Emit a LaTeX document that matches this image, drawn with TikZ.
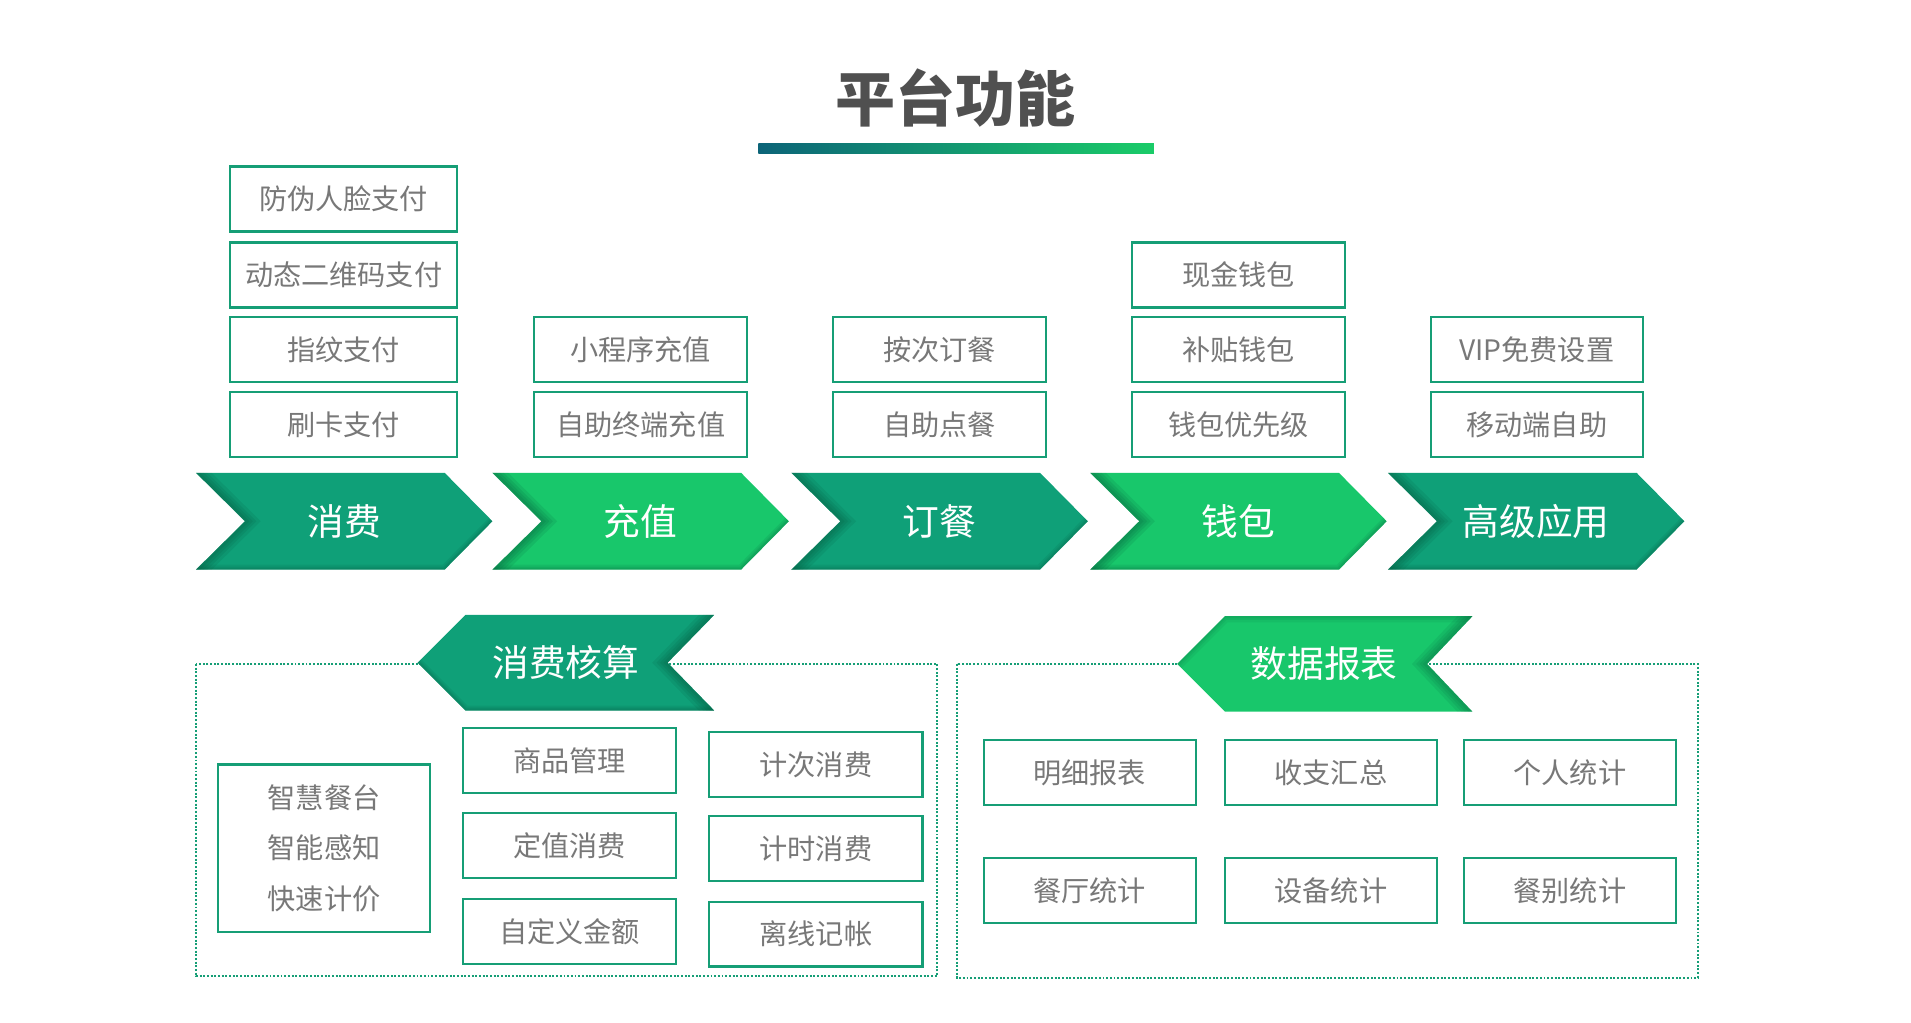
\documentclass[tikz,border=0pt]{standalone}
\usepackage{fontspec}
\newfontfamily\cjk{Noto Sans CJK SC}
\definecolor{dg}{RGB}{15,160,120}
\definecolor{bg}{RGB}{24,199,107}
\definecolor{bd}{RGB}{22,158,118}
\definecolor{tx}{RGB}{120,120,120}
\definecolor{ttl}{RGB}{80,80,80}
\definecolor{shd}{RGB}{4,80,55}
\definecolor{barl}{RGB}{12,100,120}
\definecolor{barr}{RGB}{26,204,104}
\newcommand\chevron[4]{%
  \fill[#2] (#1,386) -- ++(203,0) -- ++(39,39.5) -- ++(-39,39.5) -- ++(-203,0) -- ++(40,-39.5) -- cycle;
  \begin{scope}
    \clip (#1,386) -- ++(203,0) -- ++(39,39.5) -- ++(-39,39.5) -- ++(-203,0) -- ++(40,-39.5) -- cycle;
    \foreach \w in {18,13,9,5} {\draw[shd, line width=\w pt, opacity=0.12] (#1,386) -- ++(40,39.5) -- ++(-40,39.5);}
    \foreach \w in {8,5,3} {\draw[shd, line width=\w pt, opacity=0.10] (#1,465) -- ++(203,0) -- ++(39,-39.5);}
  \end{scope}
  \node[chevtext] (#3) at (#1+121,425.5) {#4};
}
\begin{document}
\begin{tikzpicture}[x=1pt,y=-1pt,
  box/.style={draw=bd, line width=1.8pt, fill=white, text=tx, font=\cjk\fontsize{23}{27}\selectfont, inner sep=0pt, minimum height=53pt},
  chevtext/.style={text=white, font=\cjk\fontsize{30}{33}\selectfont, inner sep=0pt},
  dotbox/.style={draw=bd, line width=1.6pt, dash pattern=on 1.6pt off 1.4pt},
  ttlstyle/.style={text=ttl, font=\cjk\bfseries\fontsize{49}{55}\selectfont, inner sep=0pt}]
\useasboundingbox (0,0) rectangle (1560,835);

% title
\node[ttlstyle] (title) at (780,80) {平台功能};
\shade[left color=barl, right color=barr] (619,117) rectangle (942,125);

% top boxes
\begin{scope}[every node/.append style={box}]
\node[minimum width=185pt] (a1) at (280.5,162.5) {防伪人脸支付};
\node[minimum width=185pt] (a2) at (280.5,224.5) {动态二维码支付};
\node[minimum width=185pt] (a3) at (280.5,285.5) {指纹支付};
\node[minimum width=185pt] (a4) at (280.5,346.5) {刷卡支付};
\node[minimum width=174pt] (b1) at (523,285.5) {小程序充值};
\node[minimum width=174pt] (b2) at (523,346.5) {自助终端充值};
\node[minimum width=174pt] (c1) at (767,285.5) {按次订餐};
\node[minimum width=174pt] (c2) at (767,346.5) {自助点餐};
\node[minimum width=174pt] (d1) at (1011,224.5) {现金钱包};
\node[minimum width=174pt] (d2) at (1011,285.5) {补贴钱包};
\node[minimum width=174pt] (d3) at (1011,346.5) {钱包优先级};
\node[minimum width=173pt] (e1) at (1254.5,285.5) {VIP免费设置};
\node[minimum width=173pt] (e2) at (1254.5,346.5) {移动端自助};
\end{scope}

% chevrons
\chevron{160}{dg}{xiaofei}{消费}
\chevron{402}{bg}{chongzhi}{充值}
\chevron{646}{dg}{dingcan}{订餐}
\chevron{890}{bg}{qianbao}{钱包}
\chevron{1133}{dg}{gaoji}{高级应用}

% bottom left group
\draw[dotbox] (160,542) rectangle (765,797);
\fill[dg] (341,541) -- (380,502) -- (583,502) -- (545,541) -- (583,580) -- (380,580) -- cycle;
\begin{scope}
  \clip (341,541) -- (380,502) -- (583,502) -- (545,541) -- (583,580) -- (380,580) -- cycle;
  \foreach \w in {18,13,9,5} {\draw[shd, line width=\w pt, opacity=0.12] (583,502) -- (545,541) -- (583,580);}
  \foreach \w in {8,5,3} {\draw[shd, line width=\w pt, opacity=0.10] (341,541) -- (380,580) -- (583,580);}
\end{scope}
\node[chevtext] (hesuan) at (462,541) {消费核算};

\begin{scope}[every node/.append style={box, minimum width=174pt}]
\node[minimum width=173pt, minimum height=137pt, align=center, font=\cjk\fontsize{23}{41.5}\selectfont] (zh) at (264.5,692.5) {智慧餐台\\智能感知\\快速计价};
\node (f1) at (465,621) {商品管理};
\node (f2) at (465,690) {定值消费};
\node (f3) at (465,760.5) {自定义金额};
\node (g1) at (666,624) {计次消费};
\node (g2) at (666,692.5) {计时消费};
\node (g3) at (666,762.5) {离线记帐};
\end{scope}

% bottom right group
\draw[dotbox] (781,542) rectangle (1386,798);
\fill[bg] (961,542) -- (1000,503) -- (1202,503) -- (1165,542) -- (1202,581) -- (1000,581) -- cycle;
\begin{scope}
  \clip (961,542) -- (1000,503) -- (1202,503) -- (1165,542) -- (1202,581) -- (1000,581) -- cycle;
  \foreach \w in {18,13,9,5} {\draw[shd, line width=\w pt, opacity=0.10] (1202,503) -- (1165,542) -- (1202,581);}
  \foreach \w in {10,6,3} {\draw[shd, line width=\w pt, opacity=0.08] (1202,503) -- (1000,503) -- (961,542);}
\end{scope}
\node[chevtext] (baobiao) at (1081,542) {数据报表};

\begin{scope}[every node/.append style={box, minimum width=173pt}]
\node (h1) at (889.5,630.5) {明细报表};
\node (h2) at (1086.5,630.5) {收支汇总};
\node (h3) at (1281.5,630.5) {个人统计};
\node (h4) at (889.5,727) {餐厅统计};
\node (h5) at (1086.5,727) {设备统计};
\node (h6) at (1281.5,727) {餐别统计};
\end{scope}
\end{tikzpicture}
\end{document}
